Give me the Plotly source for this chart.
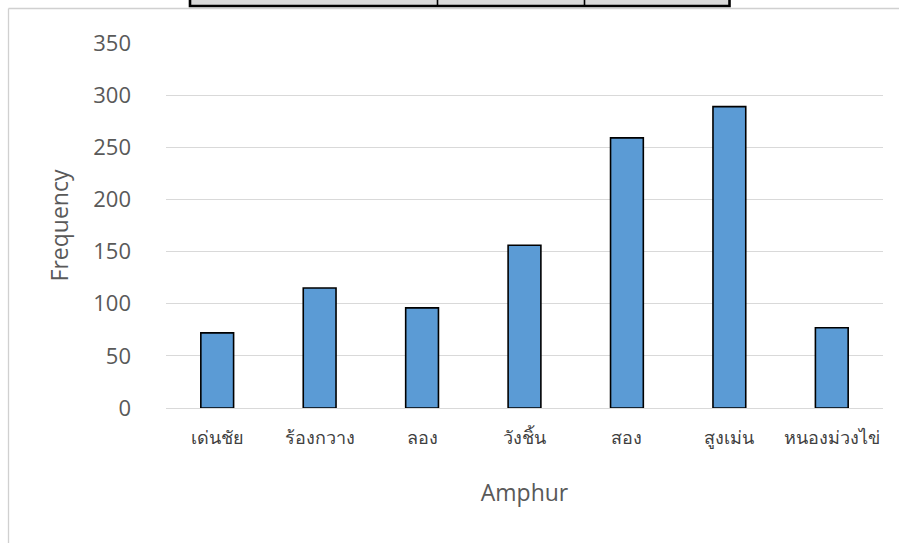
import plotly.graph_objects as go

categories = ["เด่นชัย", "ร้องกวาง", "ลอง", "วังชิ้น", "สอง", "สูงเม่น", "หนองม่วงไข่"]
frequency = [72, 115, 96, 156, 259, 289, 77]
y_ticks = [0, 50, 100, 150, 200, 250, 300, 350]

W, H = 899, 543
L, R, T, B = 166, 883, 43, 408

def px(x):
    return (x - L) / (R - L)

def py(y):
    return (B - y) / (B - T)

fig = go.Figure(go.Bar(
    x=categories, y=frequency,
    marker=dict(color="#5b9bd5", line=dict(color="#000000", width=1.6)),
    width=0.32,
))

shapes = []
# chart area border (left and top)
shapes.append(dict(type="line", xref="paper", yref="paper", x0=px(8.5), x1=px(8.5), y0=py(8.5), y1=py(545),
                   line=dict(color="#d0d0d0", width=1.3)))
shapes.append(dict(type="line", xref="paper", yref="paper", x0=px(8.5), x1=px(902), y0=py(8.5), y1=py(8.5),
                   line=dict(color="#d0d0d0", width=1.3)))
# table fragment at top
shapes.append(dict(type="rect", xref="paper", yref="paper", x0=px(190), x1=px(729.5), y0=py(-5), y1=py(6),
                   fillcolor="#d9d9d9", line=dict(color="#000000", width=2.6)))
for xd in (437.5, 584.5):
    shapes.append(dict(type="line", xref="paper", yref="paper", x0=px(xd), x1=px(xd), y0=py(-5), y1=py(6),
                       line=dict(color="#000000", width=1.6)))

fig.update_layout(
    width=W, height=H,
    margin=dict(l=L, r=W - R, t=T, b=H - B),
    paper_bgcolor="white", plot_bgcolor="white",
    showlegend=False,
    font=dict(family="Open Sans, Noto Sans, sans-serif", color="#595959", size=22),
    xaxis=dict(
        title=dict(text="Amphur", font=dict(size=23, color="#595959"), standoff=36),
        tickfont=dict(size=18, color="#404040"),
        showgrid=False, showline=False, ticks="",
        ticklabelstandoff=17,
    ),
    yaxis=dict(
        title=dict(text="Frequency", font=dict(size=23, color="#595959"), standoff=18),
        range=[0, 350], tickvals=y_ticks,
        tickfont=dict(size=22, color="#595959"),
        showgrid=True, gridcolor="#d9d9d9", gridwidth=1.2,
        zeroline=True, zerolinecolor="#d9d9d9", zerolinewidth=1.2,
        showline=False, ticks="",
        ticklabelstandoff=34,
    ),
    shapes=shapes,
)

fig.write_html("out.html", config={"displayModeBar": False},
               post_script="document.body.style.margin='0';document.body.style.overflow='hidden';")
